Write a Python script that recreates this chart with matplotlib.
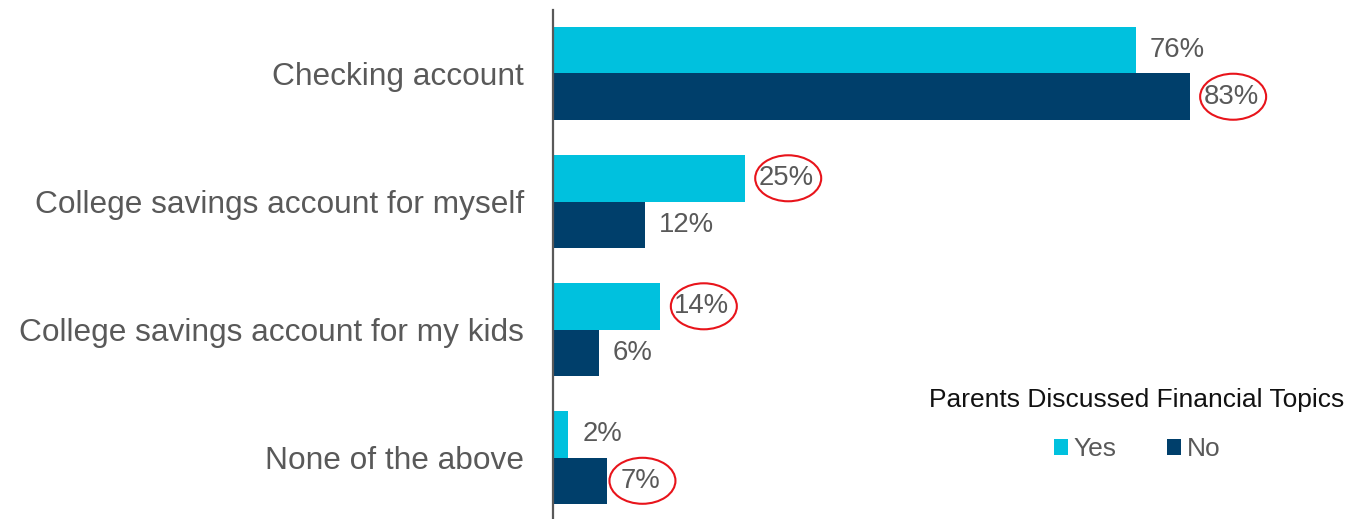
import matplotlib.pyplot as plt
from matplotlib.patches import Ellipse
from matplotlib.transforms import IdentityTransform

categories = ["Checking account", "College savings account for myself",
              "College savings account for my kids", "None of the above"]
yes_vals = [76, 25, 14, 2]
no_vals = [83, 12, 6, 7]
yes_circled = [False, True, True, False]
no_circled = [True, False, False, True]

YES_COLOR = "#00C1DE"
NO_COLOR = "#003F6B"
GRAY = "#595959"

plt.rcParams['font.family'] = ['Liberation Sans', 'DejaVu Sans']

fig = plt.figure(figsize=(13.53, 5.19), dpi=100)
ax = fig.add_axes([553 / 1353, 0, 1 - 553 / 1353, 1 - 10 / 519])

h = 0.363
ys = list(range(len(categories)))
ax.barh([y - h / 2 for y in ys], yes_vals, height=h, color=YES_COLOR, label="Yes")
ax.barh([y + h / 2 for y in ys], no_vals, height=h, color=NO_COLOR, label="No")

ax.set_xlim(0, 104.3)
ax.set_ylim(3.48, -0.496)
ax.set_yticks(ys)
ax.set_yticklabels(categories, fontsize=22.8, color=GRAY)
ax.tick_params(axis='y', length=0, pad=21)
ax.set_xticks([])
for s in ["top", "right", "bottom"]:
    ax.spines[s].set_visible(False)
ax.spines["left"].set_color(GRAY)
ax.spines["left"].set_linewidth(1.6)

texts = []
for i, y in enumerate(ys):
    t1 = ax.annotate(f"{yes_vals[i]}%", (yes_vals[i], y - h / 2), xytext=(10, 0),
                     textcoords="offset points", va="center", ha="left",
                     fontsize=19.8, color=GRAY)
    t2 = ax.annotate(f"{no_vals[i]}%", (no_vals[i], y + h / 2), xytext=(10, 0),
                     textcoords="offset points", va="center", ha="left",
                     fontsize=19.8, color=GRAY)
    if yes_circled[i]:
        texts.append(t1)
    if no_circled[i]:
        texts.append(t2)

leg = fig.legend(loc="center", bbox_to_anchor=(1137 / 1353, 1 - 425 / 519),
                 ncol=2, frameon=False, fontsize=19, title="Parents Discussed Financial Topics",
                 title_fontsize=19, handlelength=0.55, handleheight=0.55,
                 handletextpad=0.2, columnspacing=1.9, labelspacing=0.3)
for t in leg.get_texts():
    t.set_color(GRAY)
leg.get_title().set_color("#111111")
leg._legend_box.sep = 18

fig.canvas.draw()
r = fig.canvas.get_renderer()
for t in texts:
    bb = t.get_window_extent(r)
    cx = (bb.x0 + bb.x1) / 2 + 2
    cy = (bb.y0 + bb.y1) / 2
    e = Ellipse((cx, cy), 66, 46, fill=False, edgecolor="#E8141B", linewidth=1.5,
                transform=IdentityTransform())
    fig.add_artist(e)

fig.savefig("out.png", dpi=100)
